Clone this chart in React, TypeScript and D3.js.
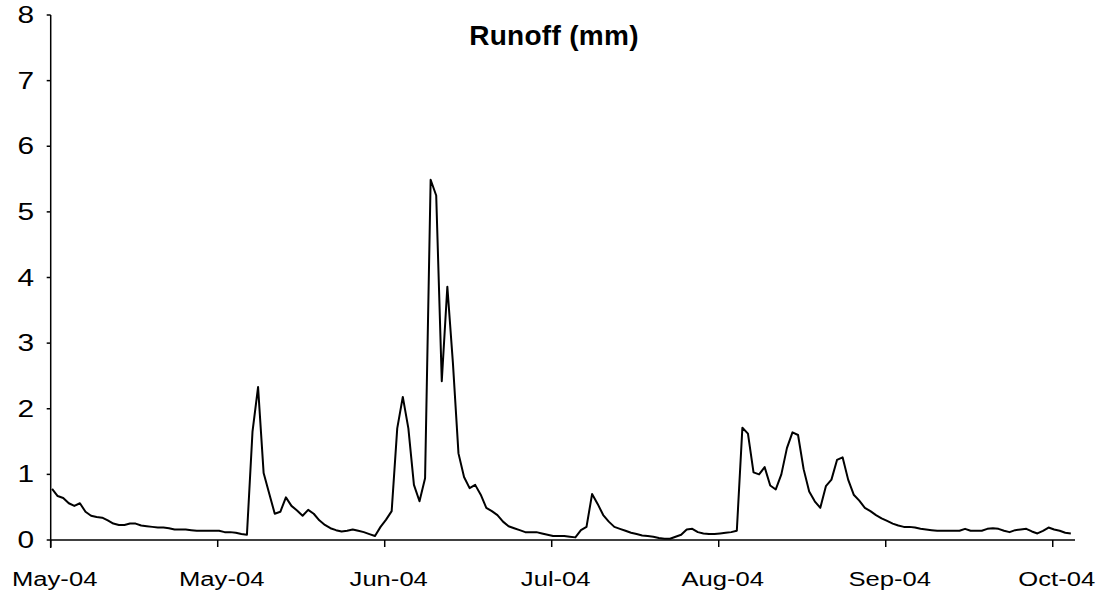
import React from "react";
import * as d3 from "d3";

const dayIndex: number[] = d3.range(184);
const runoff: number[] = [
  0.78, 0.67, 0.64, 0.56, 0.52, 0.56, 0.43, 0.37, 0.35, 0.34,
  0.30, 0.25, 0.23, 0.23, 0.25, 0.25, 0.22, 0.21, 0.20, 0.19,
  0.19, 0.18, 0.16, 0.16, 0.16, 0.15, 0.14, 0.14, 0.14, 0.14,
  0.14, 0.12, 0.12, 0.11, 0.09, 0.08, 1.65, 2.33, 1.02, 0.71,
  0.40, 0.43, 0.65, 0.52, 0.45, 0.37, 0.46, 0.40, 0.30, 0.23,
  0.18, 0.15, 0.13, 0.14, 0.16, 0.14, 0.12, 0.09, 0.06, 0.20,
  0.31, 0.44, 1.70, 2.18, 1.70, 0.84, 0.59, 0.94, 5.49, 5.25,
  2.42, 3.86, 2.70, 1.32, 0.96, 0.79, 0.84, 0.69, 0.49, 0.44,
  0.38, 0.28, 0.21, 0.18, 0.15, 0.12, 0.12, 0.12, 0.10, 0.08,
  0.06, 0.06, 0.06, 0.05, 0.04, 0.15, 0.20, 0.70, 0.55, 0.38,
  0.28, 0.20, 0.17, 0.14, 0.11, 0.09, 0.07, 0.06, 0.05, 0.03,
  0.02, 0.02, 0.05, 0.08, 0.16, 0.17, 0.12, 0.10, 0.09, 0.09,
  0.10, 0.11, 0.12, 0.14, 1.71, 1.62, 1.03, 1.00, 1.11, 0.83,
  0.77, 1.00, 1.40, 1.64, 1.60, 1.08, 0.74, 0.59, 0.49, 0.82,
  0.92, 1.22, 1.26, 0.92, 0.69, 0.60, 0.49, 0.44, 0.38, 0.33,
  0.29, 0.25, 0.22, 0.20, 0.20, 0.19, 0.17, 0.16, 0.15, 0.14,
  0.14, 0.14, 0.14, 0.14, 0.17, 0.14, 0.14, 0.14, 0.17, 0.18,
  0.17, 0.14, 0.12, 0.15, 0.16, 0.17, 0.13, 0.10, 0.14, 0.19,
  0.16, 0.14, 0.11, 0.10,
];
const xTickDays: number[] = [0, 30, 60, 90, 120, 150, 180];
const xTickLabels: string[] = ["May-04", "May-04", "Jun-04", "Jul-04", "Aug-04", "Sep-04", "Oct-04"];
const yTicks: number[] = [0, 1, 2, 3, 4, 5, 6, 7, 8];
const title = "Runoff (mm)";

export default function App() {
  const W = 1107, H = 595;
  const x = d3.scaleLinear().domain([0, 184]).range([50.7, 1075]);
  const y = d3.scaleLinear().domain([0, 8]).range([540, 15]);
  const line = d3
    .line<number>()
    .x((_, i) => x(dayIndex[i] + 0.25))
    .y((d) => y(d));
  const font = "'Liberation Sans', Arial, sans-serif";
  return (
    <svg width={W} height={H} style={{ position: "absolute", left: 0, top: 0, background: "#fff" }}>
      <rect width={W} height={H} fill="#fff" />
      {/* y axis */}
      <line x1={x(0)} x2={x(0)} y1={y(8)} y2={548} stroke="#000" strokeWidth={1.5} />
      {yTicks.map((t) => (
        <g key={"y" + t}>
          <line x1={x(0) - 4} x2={x(0)} y1={y(t)} y2={y(t)} stroke="#000" strokeWidth={1.5} />
          <text
            transform={`translate(34,${y(t) + 8}) scale(1.3,1)`}
            textAnchor="end"
            fontFamily={font}
            fontSize={23}
            fill="#000"
          >
            {t}
          </text>
        </g>
      ))}
      {/* x axis */}
      <line x1={x(0)} x2={x(184)} y1={y(0)} y2={y(0)} stroke="#000" strokeWidth={1.5} />
      {xTickDays.map((d, i) => (
        <g key={"x" + i}>
          <line x1={x(d)} x2={x(d)} y1={y(0)} y2={y(0) + 7} stroke="#000" strokeWidth={1.5} />
          <text
            transform={`translate(${x(d) + 4},586) scale(1.22,1)`}
            textAnchor="middle"
            fontFamily={font}
            fontSize={21}
            fill="#000"
          >
            {xTickLabels[i]}
          </text>
        </g>
      ))}
      {/* data */}
      <path d={line(runoff) || ""} fill="none" stroke="#000" strokeWidth={2} strokeLinejoin="round" />
      {/* title */}
      <text
        x={554}
        y={45}
        textAnchor="middle"
        fontFamily={font}
        fontWeight="bold"
        fontSize={28}
        letterSpacing={0.3}
        fill="#000"
      >
        {title}
      </text>
    </svg>
  );
}
